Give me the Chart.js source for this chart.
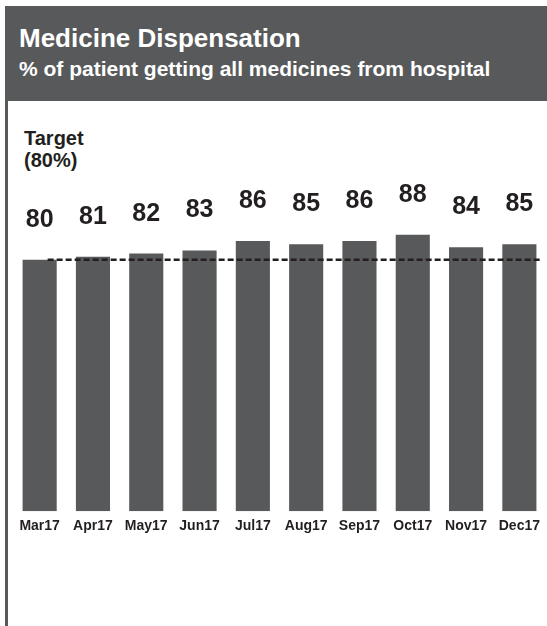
<!DOCTYPE html>
<html>
<head>
<meta charset="utf-8">
<script src="https://cdn.jsdelivr.net/npm/chart.js@4.4.1/dist/chart.umd.min.js"></script>
<style>
  html, body { margin: 0; padding: 0; background: #ffffff; }
  body { width: 547px; height: 626px; position: relative; overflow: hidden;
         font-family: "Liberation Sans", Arial, sans-serif; }
  #header { position: absolute; left: 5px; top: 6px; width: 542px; height: 95px; background: #58595b; }
  #title { position: absolute; left: 14px; top: 17px; color: #ffffff; font-weight: bold;
           font-size: 26px; line-height: 30px; white-space: nowrap; }
  #subtitle { position: absolute; left: 14px; top: 51px; color: #ffffff; font-weight: bold;
              font-size: 21px; line-height: 24px; white-space: nowrap; }
  #leftRule { position: absolute; left: 5px; top: 101px; width: 3px; height: 525px; background: #58595b; }
  #targetNote { position: absolute; left: 24px; top: 127px; color: #231f20; font-weight: bold;
                font-size: 20px; line-height: 22px; white-space: nowrap; }
  #wrap { position: absolute; left: 0; top: 0; width: 547px; height: 626px; }
</style>
</head>
<body>
<div id="header">
  <div id="title">Medicine Dispensation</div>
  <div id="subtitle">% of patient getting all medicines from hospital</div>
</div>
<div id="leftRule"></div>
<div id="targetNote">Target<br>(80%)</div>
<div id="wrap"><canvas id="chart" width="547" height="626"></canvas></div>
<script>
// Monthly share of patients receiving all their medicines from the hospital
const months = ['Mar17', 'Apr17', 'May17', 'Jun17', 'Jul17', 'Aug17', 'Sep17', 'Oct17', 'Nov17', 'Dec17'];
const dispensedPct = [80, 81, 82, 83, 86, 85, 86, 88, 84, 85];
const targetPct = 80;

const INK = '#231f20';
const BAR = '#58595b';

// Value figures floating above each bar
const valueLabels = {
  id: 'valueLabels',
  afterDatasetsDraw(chart) {
    const ctx = chart.ctx;
    const meta = chart.getDatasetMeta(0);
    ctx.save();
    ctx.fillStyle = INK;
    ctx.font = 'bold 25px "Liberation Sans", Arial, sans-serif';
    ctx.textAlign = 'center';
    ctx.textBaseline = 'alphabetic';
    meta.data.forEach((bar, i) => {
      ctx.fillText(String(dispensedPct[i]), bar.x, bar.y - 33);
    });
    ctx.restore();
  }
};

// Dashed target reference line
const targetLine = {
  id: 'targetLine',
  afterDatasetsDraw(chart) {
    const ctx = chart.ctx;
    const x = chart.scales.x;
    const y = chart.scales.y;
    const py = y.getPixelForValue(targetPct);
    ctx.save();
    ctx.strokeStyle = INK;
    ctx.lineWidth = 2.5;
    ctx.setLineDash([6, 3]);
    ctx.beginPath();
    ctx.moveTo(x.getPixelForValue(0.15), py);
    ctx.lineTo(x.getPixelForValue(9.41), py);
    ctx.stroke();
    ctx.restore();
  }
};

new Chart(document.getElementById('chart'), {
  type: 'bar',
  data: {
    labels: months,
    datasets: [{
      data: dispensedPct,
      backgroundColor: BAR,
      borderWidth: 0,
      categoryPercentage: 1,
      barPercentage: 0.64
    }]
  },
  options: {
    responsive: false,
    animation: false,
    devicePixelRatio: 1,
    layout: { padding: { left: 13, right: 0, top: 197, bottom: 84 } },
    plugins: { legend: { display: false }, title: { display: false }, tooltip: { enabled: false } },
    scales: {
      x: {
        grid: { display: false, drawTicks: false },
        border: { display: false },
        ticks: {
          color: INK,
          padding: 7,
          maxRotation: 0,
          autoSkip: false,
          font: { family: '"Liberation Sans", Arial, sans-serif', size: 14, weight: 'bold' }
        }
      },
      y: { display: false, min: 0, max: 100 }
    }
  },
  plugins: [valueLabels, targetLine]
});
</script>
</body>
</html>
